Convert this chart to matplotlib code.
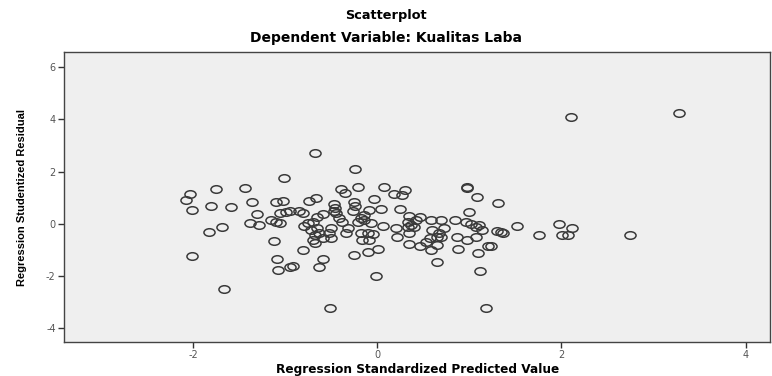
import matplotlib
matplotlib.use("Agg")
import matplotlib.pyplot as plt
from matplotlib.path import Path

plt.rcParams["axes.unicode_minus"] = False

# Regression standardized predicted value (x) and studentized residual (y)
pred = [
    -2.03, -2.08, -2.01, -1.75, -1.80, -1.59, -1.44, -1.36, -1.31, -1.38,
    -1.28, -1.69, -1.83, -2.01, -1.66, -1.01, -1.10, -1.02, -1.06, -1.15,
    -1.10, -1.06, -1.12, -1.09, -1.08, -0.99, -0.95,
    -0.67, -0.24, -0.95, -0.85, -0.81, -0.74, -0.66, -0.39, -0.35, -0.21,
    0.07, -0.04, 0.04, -0.47, -0.46, -0.47, -0.45, -0.25, -0.24, -0.26,
    -0.59, -0.65, -0.70, -0.75, -0.79, -0.41, -0.38, -0.32, -0.34, -0.21,
    -0.18, -0.14, -0.09, -0.14, -0.07, -0.10, -0.05, -0.16, -0.09, -0.18,
    -0.50, -0.52, -0.50, -0.59, -0.63, -0.68, -0.70, -0.67, -0.72, -0.65,
    -0.25, -0.10, 0.01, -0.01, -0.81, -0.59, -0.63, -0.91, -0.51,
    0.18, 0.27, 0.30, 0.25, 0.06, 0.20, 0.22, 0.35, 0.33, 0.37,
    0.33, 0.40, 0.47, 0.42, 0.35, 0.35, 0.46, 0.53, 0.57, 0.58,
    0.60, 0.65, 0.67, 0.73, 0.69, 0.65, 0.58, 0.69, 0.65, 0.85,
    0.87, 0.88, 0.96, 0.97, 0.97, 0.98, 1.08, 1.00, 1.02, 1.07,
    1.11, 1.14, 1.07, 1.09, 1.12, 1.20, 1.18,
    1.31, 1.24, 1.30, 1.34, 1.37, 1.52, 1.76, 1.97, 2.11, 2.01,
    2.07, 3.28, 2.74, 2.10,
]
resid = [
    1.13, 0.90, 0.53, 1.32, 0.68, 0.64, 1.37, 0.82, 0.37, 0.04,
    -0.05, -0.14, -0.31, -1.24, -2.49, 1.75, 0.82, 0.87, 0.42, 0.14,
    0.08, 0.04, -0.65, -1.37, -1.78, 0.46, -1.65,
    2.71, 2.10, 0.49, 0.50, 0.40, 0.87, 0.98, 1.32, 1.17, 1.40,
    1.40, 0.95, 0.55, 0.75, 0.60, 0.50, 0.40, 0.85, 0.68, 0.50,
    0.37, 0.25, 0.08, 0.02, -0.08, 0.21, 0.08, -0.18, -0.37, 0.08,
    0.21, 0.33, 0.53, 0.14, 0.02, -0.37, -0.40, -0.63, -0.63, -0.37,
    -0.18, -0.37, -0.56, -0.56, -0.37, -0.43, -0.63, -0.73, -0.24, -0.18,
    -1.20, -1.10, -0.97, -2.01, -1.01, -1.37, -1.65, -1.63, -3.23,
    1.14, 1.10, 1.29, 0.55, -0.09, -0.18, -0.52, 0.30, 0.08, -0.05,
    -0.14, -0.14, 0.25, 0.14, -0.37, -0.78, -0.86, -0.69, -0.56, -1.01,
    -0.24, -0.50, -0.37, -0.18, -0.50, -0.82, 0.14, 0.14, -1.48, 0.14,
    -0.52, -0.95, 0.08, -0.63, 1.40, 1.38, 1.02, 0.46, -0.01, -0.14,
    -0.05, -0.24, -0.52, -1.14, -1.81, -0.86, -3.22,
    0.78, -0.86, -0.27, -0.31, -0.37, -0.09, -0.42, -0.01, -0.18, -0.43,
    -0.45, 4.25, -0.45, 4.08,
]

xticks = [-2, 0, 2, 4]
yticks = [-4, -2, 0, 2, 4, 6]

# slightly flattened open circle, like the SPSS output
circ = Path.unit_circle()
ellipse = Path(circ.vertices * [1.0, 0.68], circ.codes)

fig = plt.figure(figsize=(7.72, 3.76), dpi=100)
ax = fig.add_axes([0.083, 0.090, 0.915, 0.772])
ax.set_facecolor("#efefef")

ax.plot(pred, resid, linestyle="none", marker=ellipse, markersize=8,
        markerfacecolor="none", markeredgecolor="#3a3a3a", markeredgewidth=1.1)

ax.set_xlim(-3.4, 4.27)
ax.set_ylim(-4.54, 6.59)
ax.set_xticks(xticks)
ax.set_yticks(yticks)
ax.tick_params(direction="out", length=4, width=1, color="#333333",
               labelsize=7, labelcolor="#555555", pad=2)
for s in ax.spines.values():
    s.set_color("#444444")
    s.set_linewidth(1.0)

ax.set_xlabel("Regression Standardized Predicted Value", fontsize=8.7,
              fontweight="bold", family="DejaVu Sans", labelpad=2)
ax.set_ylabel("Regression Studentized Residual", fontsize=8,
              fontweight="bold", family="Liberation Sans", labelpad=14)

fig.text(0.5, 0.960, "Scatterplot", ha="center", va="center",
         fontsize=9.3, fontweight="bold", family="DejaVu Sans")
fig.text(0.5, 0.900, "Dependent Variable: Kualitas Laba", ha="center",
         va="center", fontsize=10, fontweight="bold", family="DejaVu Sans")

fig.savefig("out.png", dpi=100)
